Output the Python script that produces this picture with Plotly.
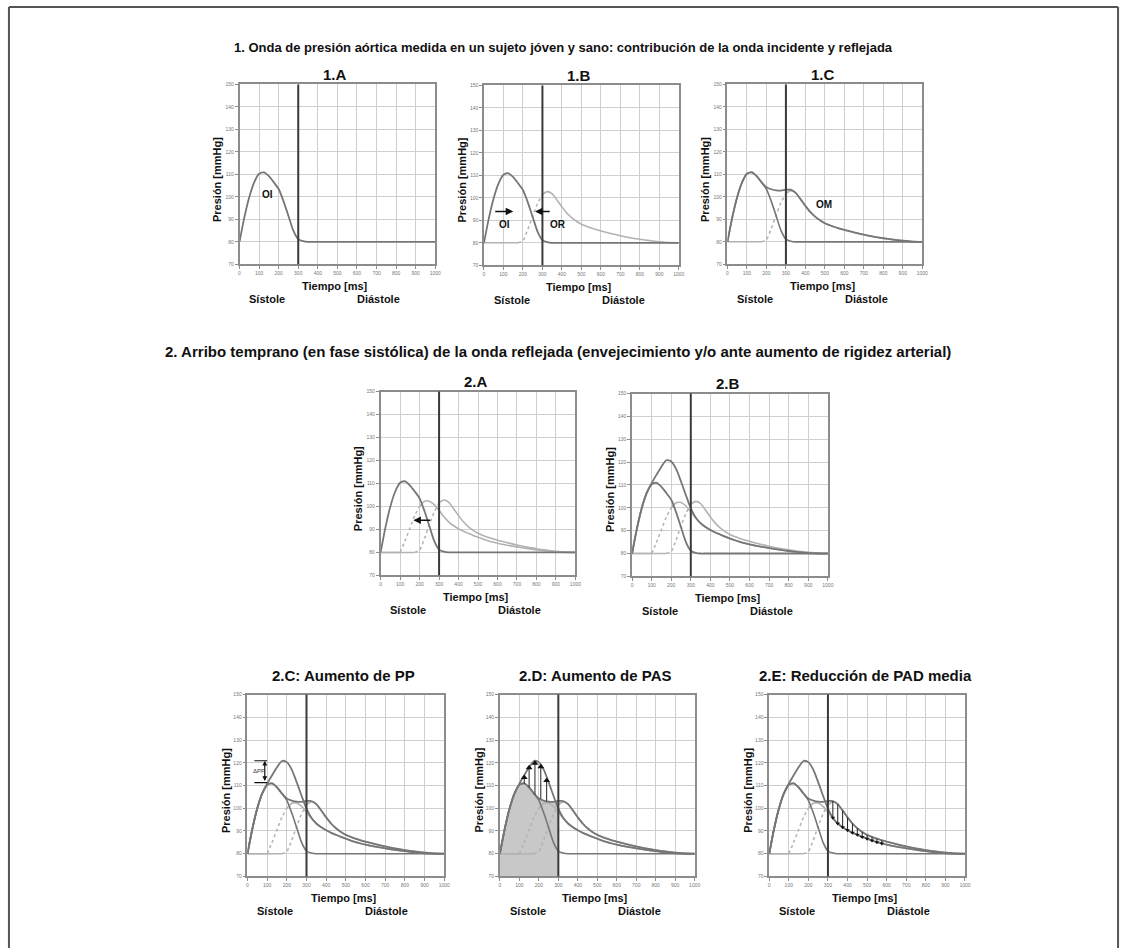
import plotly.graph_objects as go

# ---------------- data ----------------
t_ms = [0, 25, 50, 75, 100, 125, 150, 175, 200, 225, 250, 275, 300, 325, 350, 375, 400,
        425, 450, 475, 500, 525, 550, 575, 600, 650, 700, 750, 800, 850, 900, 950, 1000]

# incident wave (OI)
p_incidente = [80, 91, 100, 106.5, 110.3, 110.9, 109.2, 106.5, 103.5, 98, 91.5, 85, 81.2, 80.3, 80, 80, 80,
               80, 80, 80, 80, 80, 80, 80, 80, 80, 80, 80, 80, 80, 80, 80, 80]
# reflected wave, normal (late) arrival (OR)
p_reflejada = [80, 80, 80, 80, 80, 80, 80, 80, 81, 86, 92, 97.5, 101.5, 102.8, 101.8, 99, 96,
               93.3, 91.2, 89.6, 88.3, 87.4, 86.6, 85.9, 85.3, 84.2, 83.2, 82.3, 81.6, 81.0, 80.5, 80.1, 80]
# reflected wave, early arrival
p_reflejada_temprana = [80, 80, 80, 80, 80, 85, 90.5, 96, 100, 102.2, 102.3, 100.8, 98.3, 95.5, 93.2, 91.6, 90.3,
                        89.2, 88.3, 87.4, 86.6, 85.8, 85.1, 84.5, 84, 83.1, 82.4, 81.7, 81.1, 80.6, 80.2, 80, 80]
# measured (composite) wave, young subject (OM)
p_medida = [80, 91, 100, 106.5, 110.3, 110.9, 109.2, 106.5, 104.3, 103.4, 102.9, 102.8, 103.2, 103.2, 101.8, 99, 96,
            93.3, 91.2, 89.6, 88.3, 87.4, 86.6, 85.9, 85.3, 84.2, 83.2, 82.3, 81.6, 81.0, 80.5, 80.1, 80]
# measured (composite) wave with early reflection
p_medida_temprana = [80, 91, 100, 106.5, 110.8, 114.5, 118, 120.8, 120.3, 117, 111.5, 105.5, 99.8, 95.8, 93.3, 91.6, 90.3,
                     89.2, 88.3, 87.4, 86.6, 85.8, 85.1, 84.5, 84, 83.1, 82.4, 81.7, 81.1, 80.6, 80.2, 80, 80]

fin_sistole = 300          # ms, end of systole
x_ticks = [0, 100, 200, 300, 400, 500, 600, 700, 800, 900, 1000]
y_ticks = [70, 80, 90, 100, 110, 120, 130, 140, 150]

# 2.D: augmentation arrows (from measured wave up to early composite)
pas_t = [125, 150, 180, 210, 240]
pas_base = [110.9, 109.2, 106.0, 104.0, 103.1]
pas_tip = [113.5, 117.8, 119.8, 118.3, 112.2]

# ΔPP bracket (2.C)
dpp_t = 88
dpp_low, dpp_high = 111.3, 120.9

titulo_1 = "1. Onda de presión aórtica medida en un sujeto jóven y sano: contribución de la onda incidente y reflejada"
titulo_2 = "2. Arribo temprano (en fase sistólica) de la onda reflejada (envejecimiento y/o ante aumento de rigidez arterial)"

# ---------------- layout helpers ----------------
W, H = 1131, 951
def px(x):
    return x / W
def py(y):
    return 1 - y / H

DARK = "#767676"
LIGHT = "#b2b2b2"
FONT = "Liberation Sans, Arial, sans-serif"
C = dict(xanchor="center", yanchor="middle", showarrow=False)

# panel boxes in pixels: title, left, right, top, bottom, title size, title offset
panels = [
    ("1.A", 240, 437, 82, 263, 15, 10),
    ("1.B", 486, 682, 83, 264, 15, 10),
    ("1.C", 731, 927, 82, 263, 15, 10),
    ("2.A", 382, 578, 391, 576, 15, 10),
    ("2.B", 635, 832, 393, 577, 15, 10),
    ("2.C: Aumento de PP", 248, 446, 696, 879, 15, 19),
    ("2.D: Aumento de PAS", 502, 698, 696, 879, 15, 19),
    ("2.E: Reducción de PAD media", 773, 970, 696, 879, 15, 19),
]

fig = go.Figure()
annotations = []
shapes = []
layout = {}

for i, (title, L, R, T, B, tsize, toff) in enumerate(panels, start=1):
    xa = "xaxis" if i == 1 else f"xaxis{i}"
    ya = "yaxis" if i == 1 else f"yaxis{i}"
    common = dict(showgrid=True, gridcolor="#cfcfcf", gridwidth=1, showline=True,
                  linecolor="#8c8c8c", linewidth=1.5, mirror=True, ticks="outside",
                  ticklen=3, tickcolor="#8c8c8c", tickfont=dict(size=5, color="#777", family=FONT),
                  zeroline=False, fixedrange=True)
    layout[xa] = dict(domain=[px(L), px(R)], range=[0, 1000], tickvals=x_ticks,
                      anchor=f"y{i}" if i > 1 else "y", **common)
    layout[ya] = dict(domain=[py(B), py(T)], range=[70, 150], tickvals=y_ticks,
                      anchor=f"x{i}" if i > 1 else "x", **common)
    cx = (L + R) / 2
    annotations += [
        dict(text=f"<b>{title}</b>", x=px(cx - 2), y=py(T - toff), xref="paper", yref="paper",
             font=dict(size=tsize, color="#111", family=FONT), **C),
        dict(text="<b>Tiempo [ms]</b>", x=px(L + 0.49 * (R - L)), y=py(B + 22), xref="paper", yref="paper",
             font=dict(size=11, color="#111", family=FONT), **C),
        dict(text="<b>Sístole</b>", x=px(L + 28), y=py(B + 35), xref="paper", yref="paper",
             font=dict(size=11, color="#111", family=FONT), **C),
        dict(text="<b>Diástole</b>", x=px(L + 140), y=py(B + 35), xref="paper", yref="paper",
             font=dict(size=11, color="#111", family=FONT), **C),
        dict(text="<b>Presión [mmHg]</b>", x=px(L - 22), y=py((T + B) / 2 + 5), xref="paper", yref="paper",
             textangle=-90, font=dict(size=11, color="#111", family=FONT), **C),
    ]
    xr = "x" if i == 1 else f"x{i}"
    yr = "y" if i == 1 else f"y{i}"
    shapes.append(dict(type="line", xref=xr, yref=f"{yr} domain", x0=fin_sistole, x1=fin_sistole,
                       y0=0, y1=1, line=dict(color="#3a3a3a", width=2), layer="above"))


def axes(i):
    return ("x" if i == 1 else f"x{i}", "y" if i == 1 else f"y{i}")


def curve(i, x, y, color, width=1.8, dash="solid", **kw):
    xa, ya = axes(i)
    fig.add_trace(go.Scatter(x=x, y=y, mode="lines", xaxis=xa, yaxis=ya, showlegend=False,
                             hoverinfo="skip",
                             line=dict(color=color, width=width, dash=dash, shape="spline", smoothing=0.7),
                             **kw))


def reflected(i, values, start, end):
    curve(i, t_ms[:start + 1], values[:start + 1], LIGHT, 1.5)
    curve(i, t_ms[start:end + 1], values[start:end + 1], LIGHT, 1.5, dash="dot")
    curve(i, t_ms[end:], values[end:], LIGHT, 1.6)


LATE = (7, 12)
EARLY = (4, 8)

# 1.A
curve(1, t_ms, p_incidente, DARK)
# 1.B
reflected(2, p_reflejada, *LATE)
curve(2, t_ms, p_incidente, DARK)
# 1.C
reflected(3, p_reflejada, *LATE)
curve(3, t_ms, p_incidente, DARK, 1.6)
curve(3, t_ms, p_medida, DARK)
# 2.A
reflected(4, p_reflejada, *LATE)
reflected(4, p_reflejada_temprana, *EARLY)
curve(4, t_ms, p_incidente, DARK)
# 2.B
reflected(5, p_reflejada, *LATE)
reflected(5, p_reflejada_temprana, *EARLY)
curve(5, t_ms, p_incidente, DARK)
curve(5, t_ms, p_medida_temprana, DARK)

# 2.D shading first
xa, ya = axes(7)
n_sys = t_ms.index(fin_sistole) + 1
fig.add_trace(go.Scatter(x=t_ms[:n_sys], y=p_medida[:n_sys], mode="lines", fill="tozeroy",
                         fillcolor="#c8c8c8", line=dict(width=0, shape="spline", smoothing=0.7),
                         xaxis=xa, yaxis=ya, showlegend=False, hoverinfo="skip"))

for i in (6, 7, 8):
    reflected(i, p_reflejada, *LATE)
    reflected(i, p_reflejada_temprana, *EARLY)
    curve(i, t_ms, p_incidente, DARK, 1.6)
    curve(i, t_ms, p_medida, DARK)
    curve(i, t_ms, p_medida_temprana, DARK)

# 2.D arrows
ax_, ay_ = [], []
for t, b, tp in zip(pas_t, pas_base, pas_tip):
    ax_ += [t, t, None]
    ay_ += [b, tp, None]
fig.add_trace(go.Scatter(x=ax_, y=ay_, mode="lines", line=dict(color="#222", width=1),
                         xaxis=xa, yaxis=ya, showlegend=False, hoverinfo="skip"))
fig.add_trace(go.Scatter(x=pas_t, y=pas_tip, mode="markers",
                         marker=dict(symbol="triangle-up", size=6, color="#111"),
                         xaxis=xa, yaxis=ya, showlegend=False, hoverinfo="skip"))

# 2.E hatching between measured wave and early composite in diastole
xa8, ya8 = axes(8)
hx, hy, mx, my = [], [], [], []
i0 = t_ms.index(325)
i1 = t_ms.index(575)
for k in range(i0, i1 + 1):
    hx += [t_ms[k], t_ms[k], None]
    hy += [p_medida[k], p_medida_temprana[k], None]
    mx.append(t_ms[k])
    my.append(p_medida_temprana[k])
fig.add_trace(go.Scatter(x=hx, y=hy, mode="lines", line=dict(color="#222", width=1),
                         xaxis=xa8, yaxis=ya8, showlegend=False, hoverinfo="skip"))
fig.add_trace(go.Scatter(x=mx, y=my, mode="markers",
                         marker=dict(symbol="triangle-down", size=4, color="#111"),
                         xaxis=xa8, yaxis=ya8, showlegend=False, hoverinfo="skip"))

# labels and arrows inside panels
lab = dict(font=dict(size=10, color="#111", family=FONT), **C)
annotations += [
    dict(text="<b>OI</b>", x=145, y=101, xref="x", yref="y", **lab),
    dict(text="<b>OI</b>", x=105, y=88, xref="x2", yref="y2", **lab),
    dict(text="<b>OR</b>", x=378, y=88, xref="x2", yref="y2", **lab),
    dict(text="<b>OM</b>", x=495, y=96.5, xref="x3", yref="y3", **lab),
]
arr = dict(showarrow=True, arrowhead=2, arrowsize=1, arrowwidth=1.5, arrowcolor="#111", text="")
annotations += [
    dict(x=150, y=94, ax=50, ay=94, xref="x2", yref="y2", axref="x2", ayref="y2", **arr),
    dict(x=262, y=94, ax=345, ay=94, xref="x2", yref="y2", axref="x2", ayref="y2", **arr),
    dict(x=168, y=94, ax=262, ay=94, xref="x4", yref="y4", axref="x4", ayref="y4", **arr),
    dict(x=dpp_t, y=dpp_high, ax=dpp_t, ay=dpp_low, xref="x6", yref="y6", axref="x6", ayref="y6",
         arrowside="end+start", showarrow=True, arrowhead=2, arrowsize=0.8, arrowwidth=1.2,
         arrowcolor="#111", text=""),
    dict(text="ΔPP", x=60, y=116.3, xref="x6", yref="y6",
         font=dict(size=6, color="#333", family=FONT), **C),
]
for v in (dpp_low, dpp_high):
    shapes.append(dict(type="line", xref="x6", yref="y6", x0=35, x1=100, y0=v, y1=v,
                       line=dict(color="#111", width=1.2)))

# section titles
annotations += [
    dict(text=f"<b>{titulo_1}</b>", x=px(566), y=py(45), xref="paper", yref="paper",
         font=dict(size=13, color="#111", family=FONT), **C),
    dict(text=f"<b>{titulo_2}</b>", x=px(560), y=py(351), xref="paper", yref="paper",
         font=dict(size=15, color="#111", family=FONT), **C),
]

# outer frame
frame = dict(color="#555", width=2)
shapes += [
    dict(type="line", xref="paper", yref="paper", x0=px(8), x1=px(1124), y0=py(4), y1=py(4), line=frame),
    dict(type="line", xref="paper", yref="paper", x0=px(8), x1=px(8), y0=py(4), y1=0, line=frame),
    dict(type="line", xref="paper", yref="paper", x0=px(1124), x1=px(1124), y0=py(4), y1=0, line=frame),
]

fig.update_layout(width=W, height=H, margin=dict(l=0, r=0, t=0, b=0, pad=0),
                  paper_bgcolor="white", plot_bgcolor="white", showlegend=False,
                  font=dict(family=FONT), annotations=annotations, shapes=shapes, **layout)

fig.write_html("out.html")
